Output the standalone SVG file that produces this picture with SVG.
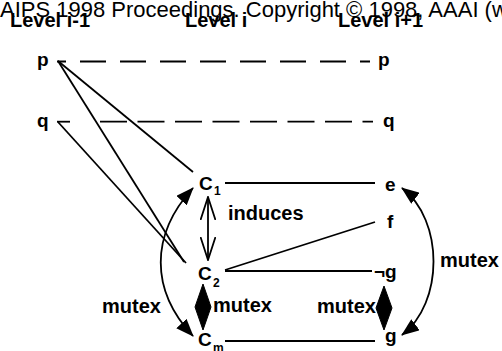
<svg xmlns="http://www.w3.org/2000/svg" width="502" height="351" viewBox="0 0 502 351">
<style>
.t{font-family:"Liberation Sans",Arial,sans-serif;font-weight:bold;font-size:19px;fill:#000}
.h{font-family:"Liberation Sans",Arial,sans-serif;font-weight:bold;font-size:20px;fill:#000}
.s{font-family:"Liberation Sans",Arial,sans-serif;font-weight:bold;font-size:12px;fill:#000}
.m{font-family:"Liberation Sans",Arial,sans-serif;font-weight:bold;font-size:20px;fill:#000}
.hdr{font-family:"Liberation Sans",Arial,sans-serif;font-size:22px;fill:#000}
.ln{stroke:#000;stroke-width:1.8;fill:none}
.fill{fill:#000;stroke:#000;stroke-width:1}
</style>
<defs>
<marker id="fa" viewBox="0 0 18 14" markerWidth="18" markerHeight="14" refX="17" refY="7" orient="auto-start-reverse" markerUnits="userSpaceOnUse">
<path d="M0,0 L18,7 L0,14 z" fill="#000"/>
</marker>
<marker id="oa" viewBox="0 0 24 16" markerWidth="24" markerHeight="16" refX="23" refY="8" orient="auto-start-reverse" markerUnits="userSpaceOnUse">
<path d="M0,0.5 L23,8 L0,15.5" fill="none" stroke="#000" stroke-width="1.8"/>
</marker>
</defs>
<text class="hdr" x="0" y="17">AIPS 1998 Proceedings. Copyright © 1998, AAAI (www.aaai.org). All rights reserved.</text>
<g id="headers">
<text class="h" x="10" y="27">Level i-1</text>
<text class="h" x="185" y="27">Level i</text>
<text class="h" x="338" y="27">Level i+1</text>
</g>
<g id="connectors">
<line class="ln" x1="57" y1="61.5" x2="370" y2="61.5" stroke-dasharray="26 14" stroke-dashoffset="17"/>
<line class="ln" x1="57" y1="121.7" x2="70" y2="121.7"/>
<line class="ln" x1="100" y1="121.7" x2="373" y2="121.7" stroke-dasharray="27 10.5"/>
<line class="ln" x1="58" y1="61" x2="193" y2="172"/>
<line class="ln" x1="58" y1="61" x2="184" y2="262"/>
<line class="ln" x1="58" y1="122" x2="186" y2="263"/>
<line class="ln" x1="225" y1="183" x2="375" y2="183"/>
<line class="ln" x1="225" y1="270" x2="375" y2="222"/>
<line class="ln" x1="225" y1="271" x2="372" y2="271"/>
<line class="ln" x1="225" y1="341" x2="375" y2="341"/>
<line class="ln" x1="208" y1="197" x2="208" y2="260" marker-start="url(#oa)" marker-end="url(#oa)"/>
<path class="ln" d="M193,188 C150,235 150,290 193,336" marker-start="url(#fa)" marker-end="url(#fa)"/>
<path class="ln" d="M402,188 C444,220 444,303 402,335" marker-start="url(#fa)" marker-end="url(#fa)"/>
<polygon class="fill" points="203,284 211,307 203,330 195,307"/>
<polygon class="fill" points="384,286 392,308 384,330 376,308"/>
</g>
<g id="node-p-left"><text class="t" x="37" y="66">p</text></g>
<g id="node-q-left"><text class="t" x="37" y="127">q</text></g>
<g id="node-p-right"><text class="t" x="378" y="66">p</text></g>
<g id="node-q-right"><text class="t" x="383" y="127">q</text></g>
<g id="node-c1"><text class="t" x="199" y="190">C</text><text class="s" x="214" y="195">1</text></g>
<g id="node-c2"><text class="t" x="198" y="280">C</text><text class="s" x="213" y="287">2</text></g>
<g id="node-cm"><text class="t" x="198" y="346">C</text><text class="s" x="213" y="352">m</text></g>
<g id="node-e"><text class="t" x="385" y="191">e</text></g>
<g id="node-f"><text class="t" x="387" y="228">f</text></g>
<g id="node-notg"><text class="t" x="374" y="278">¬g</text></g>
<g id="node-g"><text class="t" x="385" y="342">g</text></g>
<g id="labels">
<text class="m" x="228" y="220">induces</text>
<text class="m" x="213" y="312">mutex</text>
<text class="m" x="317" y="313">mutex</text>
<text class="m" x="102" y="313">mutex</text>
<text class="m" x="440" y="267">mutex</text>
</g>
</svg>
